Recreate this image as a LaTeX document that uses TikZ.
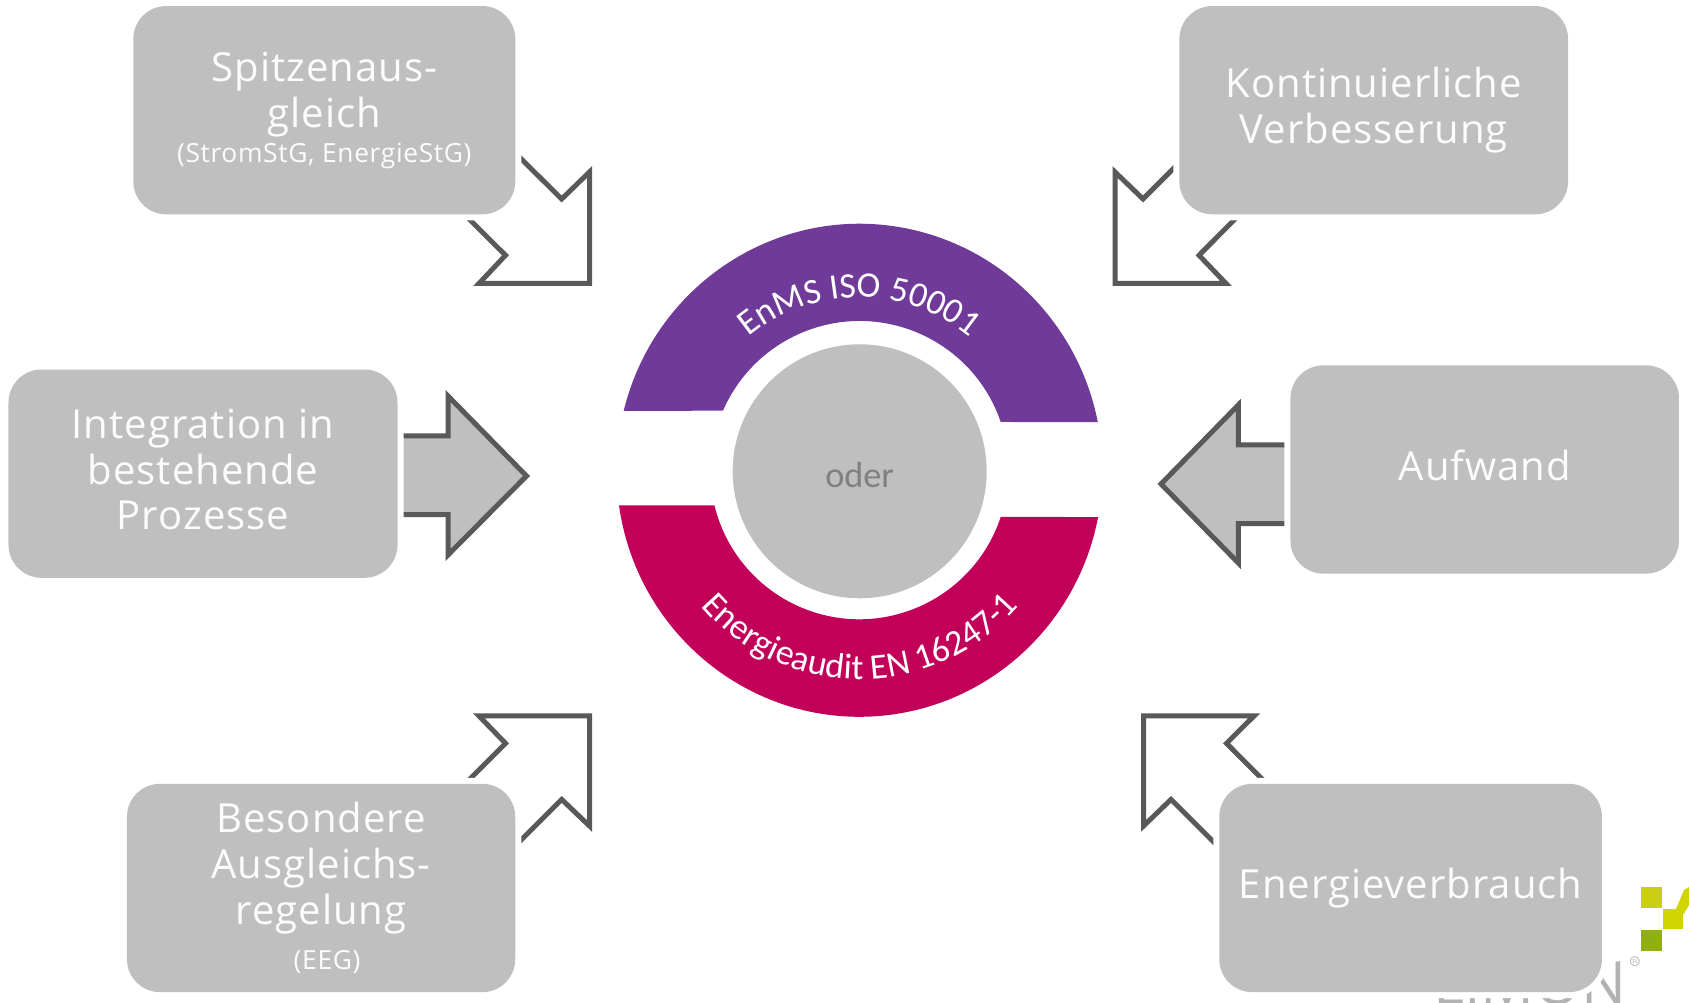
\documentclass[tikz,border=0pt]{standalone}
\usepackage{fontspec}
\usepackage{xcolor}
\usetikzlibrary{decorations.text}
\newfontfamily\boxfont[LetterSpace=2.5]{Open Sans}
\newfontfamily\logofont{Open Sans}
\newfontfamily\ringfont{Carlito}
\definecolor{boxgrey}{HTML}{BFBFBF}
\definecolor{arrowgrey}{HTML}{595959}
\definecolor{enmspurple}{HTML}{703A98}
\definecolor{auditred}{HTML}{C2005A}
\definecolor{logolight}{HTML}{CBCF14}
\definecolor{logomid}{HTML}{D0D400}
\definecolor{logodark}{HTML}{8FB010}
\tikzset{
  greybox/.style={preaction={draw=white,line width=.12cm},fill=boxgrey,rounded corners=.33cm,
    minimum height=2.083cm,outer sep=0pt,inner sep=0pt,align=center,text=white!95!boxgrey,
    font=\boxfont\fontsize{11.4}{13}\selectfont},
  hollowarrow/.style={draw=arrowgrey,line width=.05cm,fill=white},
  filledarrow/.style={draw=arrowgrey,line width=.05cm,fill=boxgrey},
  ringlabel/.style={decorate,decoration={text along path,text align=center,text={#1}}},
}
\newcommand{\smalltext}{\fontsize{7.5}{10}\selectfont}
\newcommand{\ringtext}{\ringfont\fontsize{10.2}{11}\selectfont\color{white}}
\begin{document}
\begin{tikzpicture}
      \useasboundingbox (0,0) rectangle (16.89,10.03);

      % logo behind the last box
      \begin{scope}
        \clip (0,0) rectangle (16.89,10.03);
        \fill[logolight] (16.41,0.95) rectangle (16.62,1.16);
        \fill[logomid] (16.63,0.74) rectangle (16.83,0.94);
        \fill[logomid] (16.76,0.94) -- (16.84,1.13) -- (16.89,1.16) -- (16.89,0.98) -- (16.83,0.88) -- cycle;
        \fill[logodark] (16.41,0.52) rectangle (16.62,0.73);
        \node[anchor=base east,inner sep=0pt,text=gray!60,font=\logofont\fontsize{17}{19}\selectfont] (logotext) at (16.27,-0.02) {LIMON};
        \node[inner sep=0pt,text=gray!70,font=\fontsize{4}{4}\selectfont] (logomark) at (16.35,0.41) {\textregistered};
      \end{scope}

      % diagonal arrows, their tails run under the boxes
      \draw[hollowarrow] (5.01,8.64) -- (5.617,8.04) -- (5.895,8.31) -- (5.895,7.195) -- (4.79,7.195) -- (5.055,7.477) -- (4.45,8.08) -- cycle;
      \draw[hollowarrow] (12.03,8.64) -- (11.43,8.04) -- (11.15,8.31) -- (11.15,7.195) -- (12.26,7.195) -- (11.99,7.477) -- (12.59,8.08) -- cycle;
      \draw[hollowarrow] (4.45,1.99) -- (5.055,2.597) -- (4.79,2.87) -- (5.895,2.87) -- (5.895,1.77) -- (5.617,2.035) -- (5.01,1.43) -- cycle;
      \draw[hollowarrow] (12.9,1.96) -- (12.265,2.597) -- (12.54,2.87) -- (11.435,2.87) -- (11.435,1.77) -- (11.71,2.035) -- (12.35,1.395) -- cycle;

      % filled arrows, open at the box side
      \draw[filledarrow] (4.02,5.67) -- (4.48,5.67) -- (4.48,6.07) -- (5.265,5.27) -- (4.48,4.48) -- (4.48,4.883) -- (4.02,4.883);
      \draw[filledarrow] (12.853,5.58) -- (12.383,5.58) -- (12.383,5.98) -- (11.61,5.19) -- (12.383,4.40) -- (12.383,4.793) -- (12.853,4.793);

      \node[greybox,minimum width=3.82cm,text depth=.06cm] (spitzen) at (3.243,8.928) {Spitzenaus-\\gleich\\[-3pt]{\smalltext (StromStG, EnergieStG)}};
      \node[greybox,minimum width=3.887cm] (verbesserung) at (13.737,8.928) {Kontinuierliche\\Verbesserung};
      \node[greybox,minimum width=3.89cm,text depth=.086cm] (integration) at (2.03,5.293) {Integration in\\bestehende\\Prozesse};
      \node[greybox,minimum width=3.885cm,text depth=.086cm] (aufwand) at (14.847,5.335) {Aufwand};
      \node[greybox,minimum width=3.883cm,text depth=.04cm] (ausgleich) at (3.211,1.15) {Besondere\\Ausgleichs-\\regelung\\[0pt]{\smalltext\hspace*{.12cm}(EEG)}};
      \node[greybox,minimum width=3.827cm] (verbrauch) at (14.106,1.15) {Energieverbrauch};

      % ring and circle
      \coordinate (ringc) at (8.595,5.327);
      \fill[enmspurple] (ringc) ++(166.05:2.43 and 2.465) arc[start angle=166.05,end angle=11.25,x radius=2.43,y radius=2.465]
        -- (10.007,5.81) arc[start angle=18.8,end angle=156.55,radius=1.49] -- cycle;
      \fill[auditred] (ringc) ++(188.2:2.43 and 2.465) arc[start angle=188.2,end angle=349.07,x radius=2.43,y radius=2.465]
        -- (10.007,4.86) arc[start angle=-18.27,end angle=-166.42,radius=1.49] -- cycle;
      \path[ringlabel={|\ringtext|EnMS ISO 50001}] (ringc) ++(135:1.73) arc[start angle=135,end angle=45,radius=1.73];
      \path[ringlabel={|\ringtext|Energieaudit EN 16247-1}] (ringc) ++(205:2.09) arc[start angle=205,end angle=335,radius=2.09];
      \node[circle,fill=boxgrey,minimum size=2.54cm,inner sep=0pt,text=gray,font=\ringfont\fontsize{10.3}{12}\selectfont] (oder) at (8.597,5.317) {\raisebox{-.165cm}[0pt][0pt]{oder}};
    \end{tikzpicture}
\end{document}
